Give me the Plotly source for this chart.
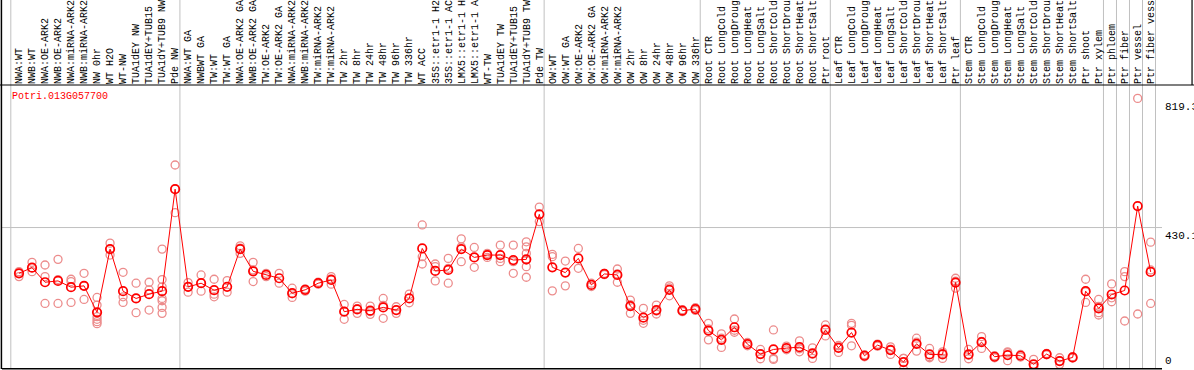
import plotly.graph_objects as go

labels = [
    "NWA:WT", "NWB:WT", "NWA:OE-ARK2", "NWB:OE-ARK2", "NWA:miRNA-ARK2", "NWB:miRNA-ARK2",
    "NW 0hr", "WT H2O", "WT-NW", "TUA1dEY NW", "TUA1dEY+TUB15", "TUA1dY+TUB9 NW", "Pde NW",
    "NWA:WT GA", "NWBWT GA", "TW:WT", "TW:WT GA", "NWA:OE-ARK2 GA", "NWB:OE-ARK2 GA",
    "TW:OE-ARK2", "TW:OE-ARK2 GA", "NWA:miRNA-ARK2", "NWB:miRNA-ARK2", "TW:miRNA-ARK2",
    "TW:miRNA-ARK2", "TW 2hr", "TW 8hr", "TW 24hr", "TW 48hr", "TW 96hr", "TW 336hr",
    "WT ACC", "35S::etr1-1 H2O", "35S::etr1-1 ACC", "LMX5::etr1-1 H2O", "LMX5::etr1-1 ACC",
    "WT-TW", "TUA1dEY TW", "TUA1dEY+TUB15", "TUA1dY+TUB9 TW", "Pde TW",
    "OW:WT", "OW:WT GA", "OW:OE-ARK2", "OW:OE-ARK2 GA", "OW:miRNA-ARK2", "OW:miRNA-ARK2",
    "OW 2hr", "OW 8hr", "OW 24hr", "OW 48hr", "OW 96hr", "OW 336hr",
    "Root CTR", "Root LongCold", "Root LongDrought", "Root LongHeat", "Root LongSalt",
    "Root ShortCold", "Root ShortDrought", "Root ShortHeat", "Root ShortSalt", "Ptr root",
    "Leaf CTR", "Leaf LongCold", "Leaf LongDrought", "Leaf LongHeat", "Leaf LongSalt",
    "Leaf ShortCold", "Leaf ShortDrought", "Leaf ShortHeat", "Leaf ShortSalt", "Ptr leaf",
    "Stem CTR", "Stem LongCold", "Stem LongDrought", "Stem LongHeat", "Stem LongSalt",
    "Stem ShortCold", "Stem ShortDrought", "Stem ShortHeat", "Stem ShortSalt", "Ptr shoot",
    "Ptr xylem", "Ptr phloem", "Ptr fiber", "Ptr vessel", "Ptr fiber vessel",
]

means = [
    292, 309, 265, 269, 250, 254, 174, 365, 238, 216, 229, 238, 546,
    251, 262, 241, 251, 365, 298, 287, 277, 232, 242, 262, 272, 176, 183, 179, 189, 181, 216,
    367, 299, 302, 365, 340, 347, 347, 332, 334, 470,
    310, 294, 337, 257, 290, 287, 193, 158, 181, 242, 179, 184,
    119, 91, 129, 78, 48, 62, 66, 69, 50, 121,
    67, 113, 43, 75, 60, 24, 79, 47, 47, 264,
    47, 84, 40, 45, 43, 17, 48, 27, 38, 238,
    186, 228, 240, 495, 296,
]

replicates = [
    [297, 282, 292], [325, 297, 309], [317, 282, 201], [334, 273, 201], [274, 267, 204],
    [292, 254, 213], [219, 196, 174, 161, 153, 146, 140], [383, 347, 365], [295, 221, 204],
    [262, 216, 173], [265, 242, 181], [365, 273, 251, 216, 209, 189, 171], [619, 475, 546],
    [264, 251, 235], [287, 238, 262], [274, 229, 221], [270, 235], [375, 352, 368],
    [325, 267, 302], [292, 282], [292, 262], [247, 219, 230], [245, 238], [265, 259],
    [282, 259, 275], [198, 153, 177], [193, 171, 185], [193, 168, 176], [216, 156, 195],
    [191, 171], [229, 203], [438, 342, 320], [320, 312, 269], [337, 262, 307],
    [396, 327, 372], [370, 310], [352, 340, 349], [377, 327, 337], [377, 292, 327],
    [387, 372, 352, 332, 312, 280], [492, 448],
    [349, 342, 239], [329, 254], [367, 307], [262, 252], [292, 288], [305, 265, 290],
    [211, 171, 197], [186, 150, 141], [196, 169, 178], [254, 224, 248], [182, 176], [188, 180],
    [141, 91, 124], [109, 68, 96], [154, 114, 120], [83, 73], [62, 34, 48], [121, 32, 35],
    [72, 61], [88, 55, 64], [67, 35, 48], [136, 103, 124],
    [74, 53, 73], [141, 135, 73], [46, 40], [78, 72], [70, 47, 63], [35, 2, 35],
    [96, 57, 84], [65, 37, 40], [55, 35, 50], [277, 247, 268],
    [62, 34, 45], [101, 65, 86], [43, 37], [55, 28, 52], [47, 39], [32, 10, 9],
    [50, 46], [37, 17, 27], [40, 36], [274, 204, 236],
    [213, 173, 166, 192], [260, 206, 218], [297, 282, 148], [820, 169], [386, 302, 201],
]

gene_id = "Potri.013G057700"
axis_marks = [819.3, 430.1, 0]
separators_after = [-1, 12, 40, 52, 62, 72, 83, 84, 85, 86, 87]

XMIN, XMAX = -1.307, 87.87
YMIN, YMAX = 3.0, 860.5
MONO = "Liberation Mono"


def xp(v):
    return (v - XMIN) / (XMAX - XMIN)


def yp(v):
    return (v - YMIN) / (YMAX - YMIN)


rx, ry = [], []
for i, reps in enumerate(replicates):
    for v in reps:
        rx.append(i)
        ry.append(v)

fig = go.Figure()
fig.add_trace(go.Scatter(
    x=rx, y=ry, mode="markers",
    marker=dict(symbol="circle-open", size=8, color="rgb(236,140,140)", line=dict(width=1.3)),
    hoverinfo="skip",
))
fig.add_trace(go.Scatter(
    x=list(range(len(means))), y=means, mode="lines+markers",
    line=dict(color="rgb(255,0,0)", width=1),
    marker=dict(symbol="circle-open", size=8.5, color="rgb(255,0,0)", line=dict(width=1.7)),
))

shapes = []
for s in separators_after:
    x = xp(s + 0.37)
    shapes.append(dict(type="line", xref="paper", yref="paper", x0=x, x1=x, y0=0, y1=1.4,
                       line=dict(color="rgb(192,192,192)", width=1), layer="below"))
shapes.append(dict(type="line", xref="paper", yref="paper", x0=0, x1=1, y0=yp(430.1), y1=yp(430.1),
                   line=dict(color="rgb(192,192,192)", width=1), layer="below"))
# frame lines
shapes.append(dict(type="line", xref="paper", yref="paper", x0=-0.002, x1=1.03, y0=1.0, y1=1.0,
                   line=dict(color="black", width=1.2)))
shapes.append(dict(type="line", xref="paper", yref="paper", x0=-0.0005, x1=-0.0005, y0=0, y1=1.4,
                   line=dict(color="black", width=1.5)))
shapes.append(dict(type="line", xref="paper", yref="paper", x0=0, x1=1, y0=0.001, y1=0.001,
                   line=dict(color="black", width=1.5)))
shapes.append(dict(type="line", xref="paper", yref="paper", x0=1.0259, x1=1.0259, y0=1.0, y1=1.4,
                   line=dict(color="black", width=1.2)))

annotations = [dict(text=gene_id, xref="paper", yref="paper", x=0.0069, y=0.958,
                    xanchor="left", yanchor="middle", showarrow=False,
                    font=dict(family=MONO, size=10, color="red"))]
for v in axis_marks:
    if v == 0:
        annotations.append(dict(text="0", xref="paper", yref="paper", x=1.0005, y=0.0,
                                xanchor="left", yanchor="bottom", showarrow=False,
                                font=dict(family=MONO, size=11, color="black")))
    else:
        annotations.append(dict(text=f"{v}", xref="paper", yref="paper", x=1.0005, y=yp(v),
                                xanchor="left", yanchor="top", showarrow=False,
                                font=dict(family=MONO, size=11, color="black")))

fig.update_layout(
    width=1194, height=370,
    margin=dict(l=2, r=32, t=85, b=1, pad=0),
    paper_bgcolor="white", plot_bgcolor="white",
    showlegend=False,
    shapes=shapes, annotations=annotations,
    xaxis=dict(range=[XMIN, XMAX], side="top", tickmode="array",
               tickvals=list(range(len(labels))), ticktext=labels, tickangle=-90,
               tickfont=dict(family=MONO, size=10, color="black"),
               showgrid=False, zeroline=False, showline=False, ticks="", automargin=False),
    yaxis=dict(range=[YMIN, YMAX], showticklabels=False, showgrid=False, zeroline=False,
               showline=False, ticks="", automargin=False),
)

fig.write_html("out.html", config={"displayModeBar": False},
               post_script="document.body.style.margin='0px';")
